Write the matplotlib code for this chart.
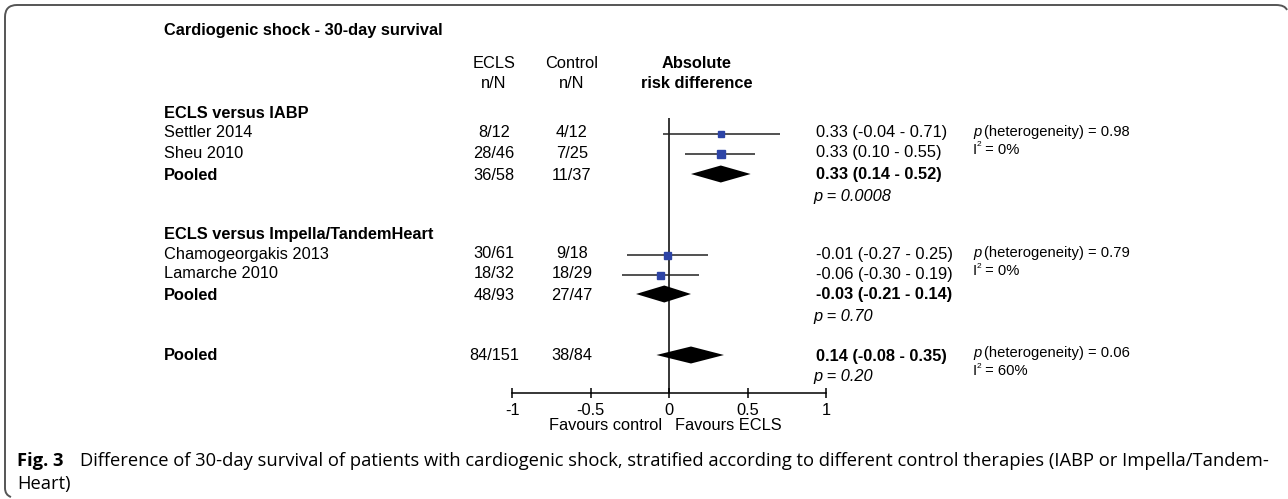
import numpy as np
import matplotlib.pyplot as plt
from matplotlib.path import Path
from matplotlib.patches import PathPatch

W, H = 1288, 499

# data
study = ["Settler 2014", "Sheu 2010", "Chamogeorgakis 2013", "Lamarche 2010"]
ecls_nN = ["8/12", "28/46", "30/61", "18/32"]
ctrl_nN = ["4/12", "7/25", "9/18", "18/29"]
est = [0.33, 0.33, -0.01, -0.06]
lo = [-0.04, 0.10, -0.27, -0.30]
hi = [0.71, 0.55, 0.25, 0.19]
weight_px = [6, 8, 7, 7]

pooled_ecls = ["36/58", "48/93", "84/151"]
pooled_ctrl = ["11/37", "27/47", "38/84"]
pooled_est = [0.33, -0.03, 0.14]
pooled_lo = [0.14, -0.21, -0.08]
pooled_hi = [0.52, 0.14, 0.35]
pooled_p = ["0.0008", "0.70", "0.20"]
het_p = ["0.98", "0.79", "0.06"]
het_i2 = ["0%", "0%", "60%"]

groups = ["ECLS versus IABP", "ECLS versus Impella/TandemHeart"]

# layout (pixel rows)
study_y = [134, 154, 255, 275]
pooled_y = [174, 294, 355]
group_y = [113, 235]

FS = 11.8
plt.rcParams['font.family'] = ['Liberation Sans', 'DejaVu Sans']
fig = plt.figure(figsize=(W / 100, H / 100), dpi=100)


def t(x, y, s, **kw):
    kw.setdefault("fontsize", FS)
    kw.setdefault("va", "center")
    fig.text(x / W, 1 - y / H, s, **kw)


# forest axes: x in risk difference, y in pixel rows
ax = fig.add_axes([512 / W, 0, 314 / W, 1])
ax.set_xlim(-1, 1)
ax.set_ylim(H, 0)
for s in ["top", "right", "left"]:
    ax.spines[s].set_visible(False)
ax.spines.bottom.set_position(("data", 393))
ax.spines.bottom.set_bounds(-1, 1)
ax.spines.bottom.set_linewidth(1.1)
ax.set_yticks([])
ax.set_xticks([-1, -0.5, 0, 0.5, 1])
ax.set_xticklabels(["-1", "-0.5", "0", "0.5", "1"])
ax.tick_params(axis="x", direction="inout", length=7, width=1.1,
               labelsize=FS, pad=4)
ax.patch.set_alpha(0)

ax.vlines(0, 118, 393, color="black", lw=1.1)

ax.hlines(study_y, lo, hi, color="#222222", lw=1.1)
for x, y, s in zip(est, study_y, weight_px):
    ax.plot(x, y, "s", ms=s * 0.72, color="#2d44a6", mec="#2d44a6")

for e, l, h, y in zip(pooled_est, pooled_lo, pooled_hi, pooled_y):
    ax.fill([l, e, h, e], [y, y - 8.5, y, y + 8.5], color="black", lw=0)

# left text
t(164, 31, "Cardiogenic shock - 30-day survival", fontweight="bold")
t(494, 63, "ECLS", ha="center")
t(494, 83, "n/N", ha="center")
t(572, 63, "Control", ha="center")
t(572, 83, "n/N", ha="center")
t(697, 63, "Absolute", ha="center", fontweight="bold")
t(697, 83, "risk difference", ha="center", fontweight="bold")

for g, y in zip(groups, group_y):
    t(164, y, g, fontweight="bold")
for name, a, b, y in zip(study, ecls_nN, ctrl_nN, study_y):
    t(164, y - 1, name)
    t(494, y - 1, a, ha="center")
    t(572, y - 1, b, ha="center")
for a, b, y in zip(pooled_ecls, pooled_ctrl, pooled_y):
    t(164, y + 1, "Pooled", fontweight="bold")
    t(494, y + 1, a, ha="center")
    t(572, y + 1, b, ha="center")

# right text
for e, l, h, y in zip(est, lo, hi, study_y):
    t(816, y - 1, f"{e:.2f} ({l:.2f} - {h:.2f})")
for i, (e, l, h, y) in enumerate(zip(pooled_est, pooled_lo, pooled_hi, pooled_y)):
    t(816, y + 1, f"{e:.2f} ({l:.2f} - {h:.2f})", fontweight="bold")
    t(813, y + 22, f"p = {pooled_p[i]}", style="italic")

HS = 10.6
het_y = [study_y[0], study_y[2], pooled_y[2]]
for p, i2, y in zip(het_p, het_i2, het_y):
    t(973, y - 2, "p", style="italic", fontsize=HS)
    t(984, y - 2, f"(heterogeneity) = {p}", fontsize=HS)
    t(973, y + 16, "I", fontsize=HS)
    t(977, y + 11, "2", fontsize=6)
    t(981, y + 16, f" = {i2}", fontsize=HS)

t(662, 425, "Favours control", ha="right")
t(675, 425, "Favours ECLS")

# caption
cap = ["Open Sans", "DejaVu Sans"]
CS = 13.2
t(17, 461, "Fig. 3", fontweight="bold", fontsize=CS, family=cap)
t(80, 461, "Difference of 30-day survival of patients with cardiogenic shock, "
   "stratified according to different control therapies (IABP or Impella/Tandem-",
   fontsize=CS, family=cap)
t(17, 484, "Heart)", fontsize=CS, family=cap)

# frame: top and left edges with rounded corners
r = 12
verts = [(1287, 10), (1285, 5), (1276, 5), (5 + r, 5), (5, 5), (5, 5 + r),
         (5, 488), (5, 495), (11, 497)]
codes = [Path.MOVETO, Path.CURVE3, Path.CURVE3, Path.LINETO, Path.CURVE3,
         Path.CURVE3, Path.LINETO, Path.CURVE3, Path.CURVE3]
verts = [(x / W, 1 - y / H) for x, y in verts]
fig.add_artist(PathPatch(Path(verts, codes), transform=fig.transFigure,
                         fill=False, edgecolor="#555555", lw=1.4))

fig.savefig("out.png", dpi=100)
